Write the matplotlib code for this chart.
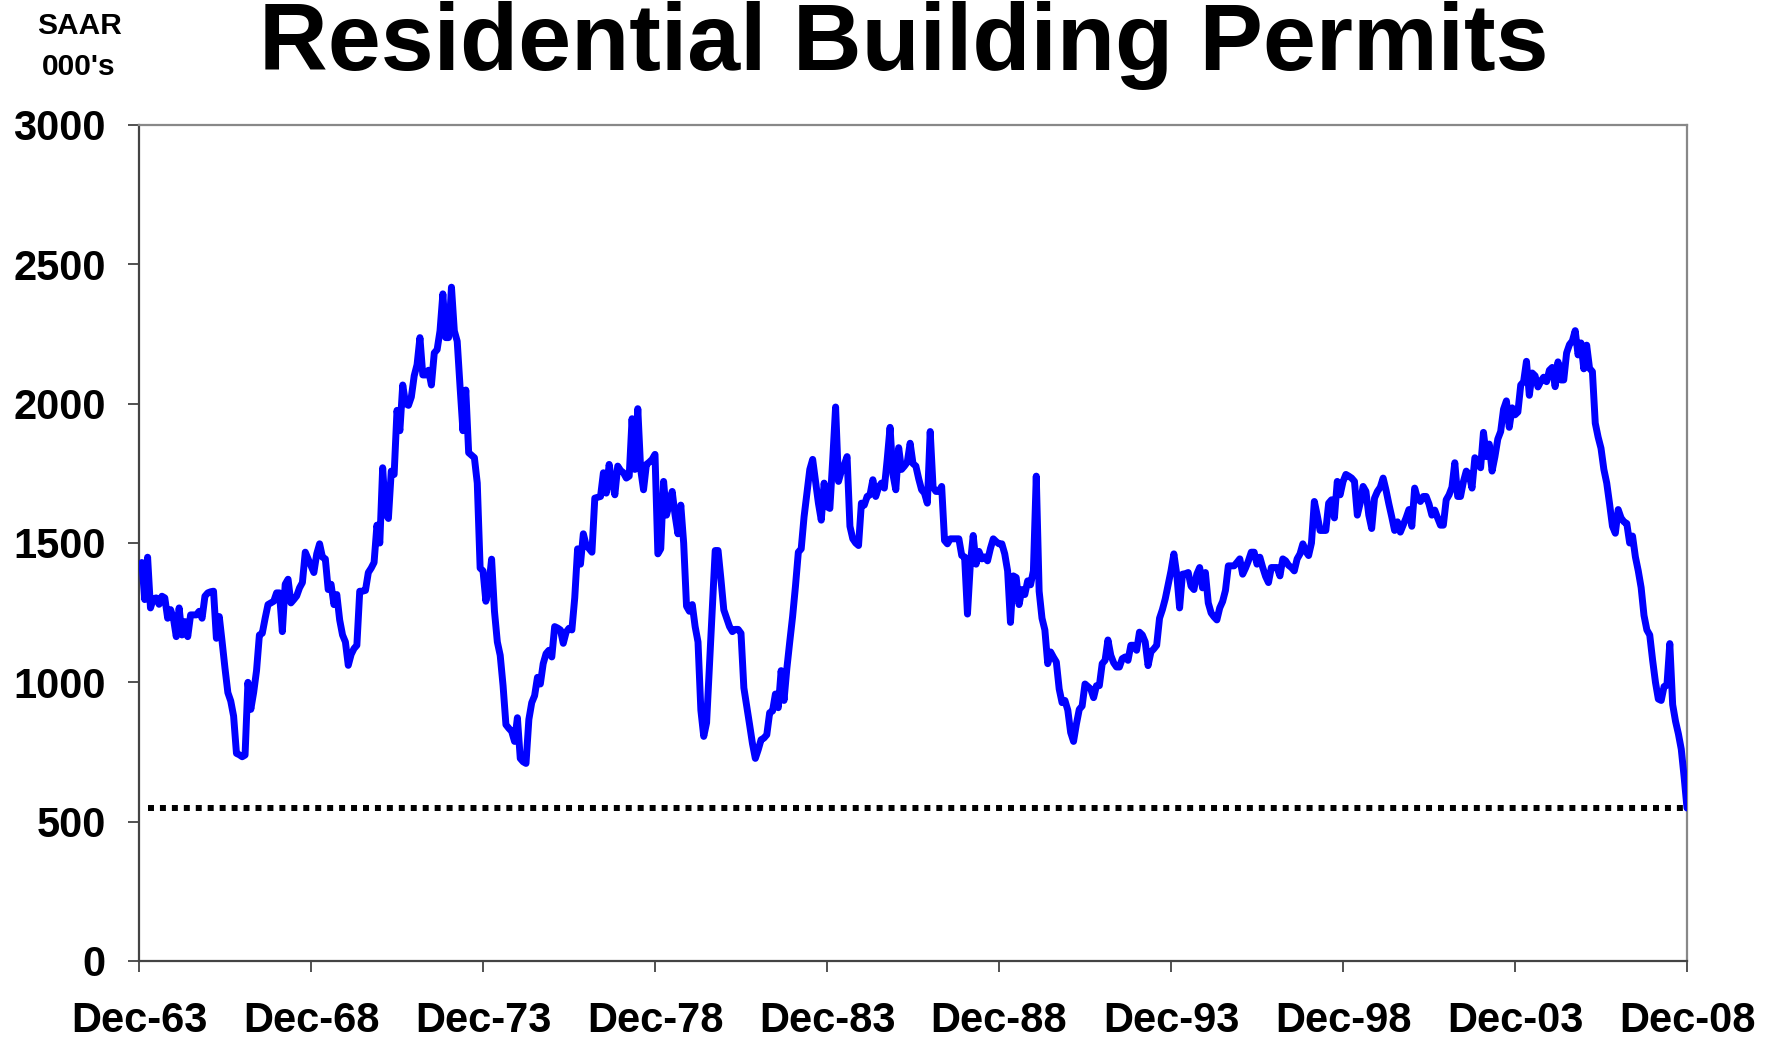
import numpy as np
import matplotlib
matplotlib.use("Agg")
import matplotlib.pyplot as plt

# Monthly residential building permits, SAAR, thousands (Jan-1964 .. Dec-2008)
permits_1964_1969 = [
    1430, 1297, 1449, 1267, 1300, 1303, 1280, 1309, 1303, 1230, 1261, 1230,
    1164, 1267, 1170, 1218, 1164, 1242, 1242, 1242, 1255, 1230, 1309, 1321,
    1325, 1327, 1158, 1236, 1145, 1050, 963, 933, 879, 745, 740, 733,
    739, 1000, 903, 964, 1042, 1170, 1176, 1230, 1279, 1285, 1291, 1321,
    1321, 1182, 1352, 1370, 1285, 1297, 1310, 1339, 1358, 1467, 1443, 1420,
    1394, 1461, 1497, 1449, 1443, 1333, 1352, 1279, 1315, 1224, 1170, 1145,
]
permits_1970_1979 = [
    1061, 1100, 1121, 1133, 1327, 1327, 1330, 1394, 1410, 1430, 1564, 1500,
    1770, 1606, 1588, 1758, 1746, 1976, 1903, 2067, 2000, 1994, 2024, 2100,
    2140, 2237, 2103, 2103, 2120, 2067, 2182, 2194, 2261, 2394, 2237, 2237,
    2418, 2261, 2224, 2060, 1903, 2049, 1824, 1815, 1806, 1715, 1410, 1400,
    1291, 1345, 1442, 1255, 1145, 1097, 988, 848, 835, 824, 788, 873,
    727, 715, 709, 867, 927, 952, 1018, 994, 1067, 1103, 1115, 1091,
    1200, 1195, 1188, 1140, 1180, 1194, 1188, 1303, 1479, 1424, 1533, 1491,
    1480, 1467, 1661, 1664, 1667, 1752, 1679, 1782, 1720, 1673, 1776, 1760,
    1752, 1733, 1740, 1946, 1764, 1982, 1764, 1691, 1782, 1790, 1800, 1818,
    1461, 1479, 1721, 1600, 1640, 1685, 1600, 1533, 1636, 1500, 1273, 1255,
]
permits_1980_1989 = [
    1279, 1200, 1145, 900, 806, 855, 1060, 1267, 1473, 1473, 1370, 1260,
    1230, 1200, 1182, 1190, 1190, 1176, 980, 915, 848, 780, 727, 758,
    794, 800, 812, 891, 897, 958, 909, 1042, 935, 1050, 1145, 1236,
    1345, 1467, 1479, 1594, 1680, 1764, 1800, 1720, 1643, 1582, 1715, 1630,
    1624, 1800, 1988, 1721, 1758, 1780, 1810, 1560, 1515, 1500, 1491, 1643,
    1636, 1667, 1673, 1727, 1667, 1700, 1715, 1697, 1800, 1915, 1746, 1691,
    1842, 1764, 1776, 1790, 1858, 1785, 1776, 1730, 1691, 1679, 1643, 1900,
    1700, 1685, 1685, 1703, 1509, 1497, 1515, 1515, 1515, 1515, 1455, 1450,
    1245, 1424, 1527, 1424, 1470, 1443, 1450, 1436, 1480, 1515, 1505, 1497,
    1497, 1461, 1400, 1215, 1382, 1376, 1279, 1333, 1315, 1364, 1350, 1400,
]
permits_1990_1999 = [
    1740, 1327, 1230, 1188, 1067, 1109, 1090, 1073, 976, 927, 935, 900,
    820, 788, 850, 903, 915, 994, 985, 976, 945, 988, 988, 1067,
    1079, 1152, 1097, 1070, 1055, 1055, 1085, 1091, 1079, 1133, 1133, 1115,
    1180, 1170, 1145, 1060, 1109, 1120, 1133, 1230, 1261, 1300, 1350, 1400,
    1461, 1388, 1267, 1388, 1390, 1394, 1345, 1333, 1388, 1412, 1339, 1394,
    1285, 1249, 1235, 1224, 1267, 1290, 1330, 1418, 1418, 1418, 1430, 1443,
    1388, 1410, 1436, 1467, 1467, 1424, 1449, 1412, 1380, 1358, 1412, 1412,
    1412, 1382, 1443, 1436, 1420, 1412, 1400, 1443, 1461, 1497, 1470, 1455,
    1500, 1649, 1600, 1545, 1545, 1545, 1643, 1655, 1590, 1721, 1673, 1720,
    1746, 1740, 1733, 1721, 1600, 1643, 1703, 1685, 1600, 1552, 1661, 1685,
]
permits_2000_2008 = [
    1700, 1733, 1690, 1640, 1594, 1545, 1576, 1539, 1564, 1590, 1620, 1560,
    1697, 1660, 1649, 1667, 1667, 1640, 1600, 1618, 1590, 1564, 1564, 1655,
    1673, 1700, 1788, 1667, 1667, 1720, 1758, 1746, 1697, 1806, 1790, 1770,
    1897, 1810, 1855, 1758, 1810, 1873, 1900, 1980, 2010, 1915, 1985, 1960,
    1970, 2067, 2079, 2152, 2030, 2110, 2100, 2060, 2080, 2095, 2079, 2120,
    2130, 2061, 2150, 2085, 2085, 2182, 2212, 2225, 2262, 2175, 2218, 2125,
    2210, 2127, 2115, 1930, 1880, 1840, 1764, 1715, 1640, 1560, 1535, 1620,
    1590, 1576, 1570, 1500, 1525, 1450, 1400, 1340, 1240, 1188, 1170, 1080,
    1000, 940, 935, 985, 990, 1139, 920, 860, 815, 760, 660, 549,
]
latest_level = 549
tick_labels = ["Dec-63", "Dec-68", "Dec-73", "Dec-78", "Dec-83",
               "Dec-88", "Dec-93", "Dec-98", "Dec-03", "Dec-08"]
y_ticks = [0, 500, 1000, 1500, 2000, 2500, 3000]

values = np.array(permits_1964_1969 + permits_1970_1979 + permits_1980_1989
                  + permits_1990_1999 + permits_2000_2008, dtype=float)
months = np.arange(1, len(values) + 1)   # months after Dec-1963

plt.rcParams['font.family'] = ['Liberation Sans', 'DejaVu Sans']
fig = plt.figure(figsize=(17.76, 10.44), dpi=100)
ax = fig.add_axes([139 / 1776, 83 / 1044, (1687 - 139) / 1776, (961 - 125) / 1044])

ax.plot(months, values, color='#0000FF', lw=5.0, solid_joinstyle='round',
        solid_capstyle='round', zorder=3)
ax.plot([3, 540], [latest_level, latest_level], color='black', lw=4.3,
        linestyle=(0, (1, 1)), dash_capstyle='butt', zorder=2)

ax.set_xlim(0, 540)
ax.set_ylim(0, 3000)
ax.set_xticks(np.arange(0, 541, 60))
ax.set_xticklabels(tick_labels)
ax.set_yticks(y_ticks)
ax.set_yticklabels([str(v) for v in y_ticks])

for lab in ax.get_xticklabels() + ax.get_yticklabels():
    lab.set_fontweight('bold')
    lab.set_fontsize(30)
ax.tick_params(axis='x', direction='out', length=8, width=1.2, pad=21, color='#333333')
ax.tick_params(axis='y', direction='out', length=8, width=1.2, pad=16, color='#333333')

for side in ['left', 'bottom']:
    ax.spines[side].set_color('#444444')
    ax.spines[side].set_linewidth(1.6)
for side in ['top', 'right']:
    ax.spines[side].set_color('#888888')
    ax.spines[side].set_linewidth(1.6)

fig.text(904 / 1776, 1 - 70 / 1044, 'Residential Building Permits',
         ha='center', va='baseline', fontsize=68.5, fontweight='bold')
fig.text(79 / 1776, 1 - 34 / 1044, 'SAAR', ha='center', va='baseline',
         fontsize=21.5, fontweight='bold')
fig.text(79 / 1776, 1 - 75 / 1044, "000's", ha='center', va='baseline',
         fontsize=21.5, fontweight='bold')

fig.savefig('out.png', dpi=100)
